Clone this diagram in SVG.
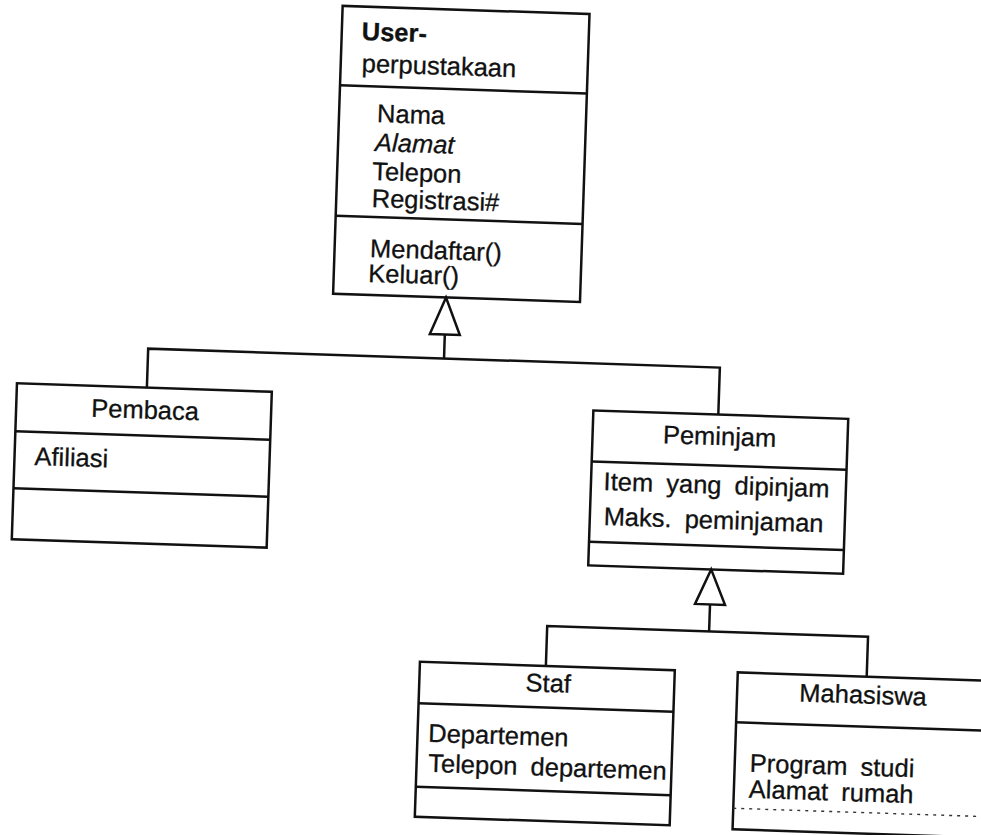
<svg xmlns="http://www.w3.org/2000/svg" width="981" height="835" viewBox="0 0 981 835">
  <style>
    .box { fill: none; stroke: #111; stroke-width: 2.5; }
    .ln { fill: none; stroke: #111; stroke-width: 2.5; }
    .dash { fill: none; stroke: #333; stroke-width: 1.4; stroke-dasharray: 3 5; }
    .tri { fill: #fff; stroke: #111; stroke-width: 2.5; stroke-linejoin: miter; }
    .t { font-family: "Liberation Sans", Arial, Helvetica, sans-serif; font-size: 25.5px; word-spacing: 6px; fill: #111; stroke: #111; stroke-width: 0.3; }
    .c { text-anchor: middle; }
    .b { font-weight: bold; }
    .i { font-style: italic; }
  </style>
  <rect width="981" height="835" fill="#fff"/>

  <!-- the whole sheet sits slightly tilted -->
  <g transform="rotate(1.9 490 420)">

    <g id="connectors">
      <!-- generalization: Pembaca / Peminjam -> User-perpustakaan -->
      <polyline class="ln" points="146,399 146,360 718,360 718,407"/>
      <line class="ln" x1="442" y1="360" x2="442" y2="336"/>
      <polygon class="tri" points="442,299 427,336 457,336"/>
      <!-- generalization: Staf / Mahasiswa -> Peminjam -->
      <polyline class="ln" points="554,664 554,624 875,624 875,664"/>
      <line class="ln" x1="716" y1="624" x2="716" y2="597"/>
      <polygon class="tri" points="716,562 701,597 731,597"/>
    </g>

    <g id="user-perpustakaan">
      <rect class="box" x="329" y="11" width="247" height="288"/>
      <line class="ln" x1="329" y1="90.5" x2="576" y2="90.5"/>
      <line class="ln" x1="329" y1="221" x2="576" y2="221"/>
      <text class="t b" x="349" y="44.5">User-</text>
      <text class="t" x="350" y="76.5">perpustakaan</text>
      <text class="t" x="367" y="126">Nama</text>
      <text class="t i" x="366" y="155">Alamat</text>
      <text class="t" x="364" y="184">Telepon</text>
      <text class="t" x="364.5" y="211">Registrasi#</text>
      <text class="t" x="364.5" y="261">Mendaftar()</text>
      <text class="t" x="363.5" y="286">Keluar()</text>
    </g>

    <g id="pembaca">
      <rect class="box" x="16" y="399" width="255" height="156"/>
      <line class="ln" x1="16" y1="447" x2="271" y2="447"/>
      <line class="ln" x1="16" y1="504" x2="271" y2="504"/>
      <text class="t c" x="145" y="430">Pembaca</text>
      <text class="t" x="36" y="480">Afiliasi</text>
    </g>

    <g id="peminjam">
      <rect class="box" x="593" y="407" width="255" height="155"/>
      <line class="ln" x1="593" y1="458" x2="848" y2="458"/>
      <line class="ln" x1="593" y1="538.3" x2="848" y2="538.3"/>
      <text class="t c" x="720" y="437.4">Peminjam</text>
      <text class="t" x="605.6" y="486.2">Item yang dipinjam</text>
      <text class="t" x="606.8" y="521.2">Maks. peminjaman</text>
    </g>

    <g id="staf">
      <rect class="box" x="428" y="664" width="255" height="155"/>
      <line class="ln" x1="428" y1="705.5" x2="683" y2="705.5"/>
      <line class="ln" x1="428" y1="789" x2="683" y2="789"/>
      <text class="t c" x="557" y="690">Staf</text>
      <text class="t" x="438.7" y="743.7">Departemen</text>
      <text class="t" x="439.7" y="773.7">Telepon departemen</text>
    </g>

    <g id="mahasiswa">
      <rect class="box" x="746" y="664" width="260" height="157"/>
      <line class="ln" x1="746" y1="714" x2="1006" y2="714"/>
      <line class="dash" x1="746" y1="800" x2="1006" y2="800"/>
      <text class="t c" x="872" y="691">Mahasiswa</text>
      <text class="t" x="761" y="763">Program studi</text>
      <text class="t" x="761" y="789">Alamat rumah</text>
    </g>

  </g>
</svg>
